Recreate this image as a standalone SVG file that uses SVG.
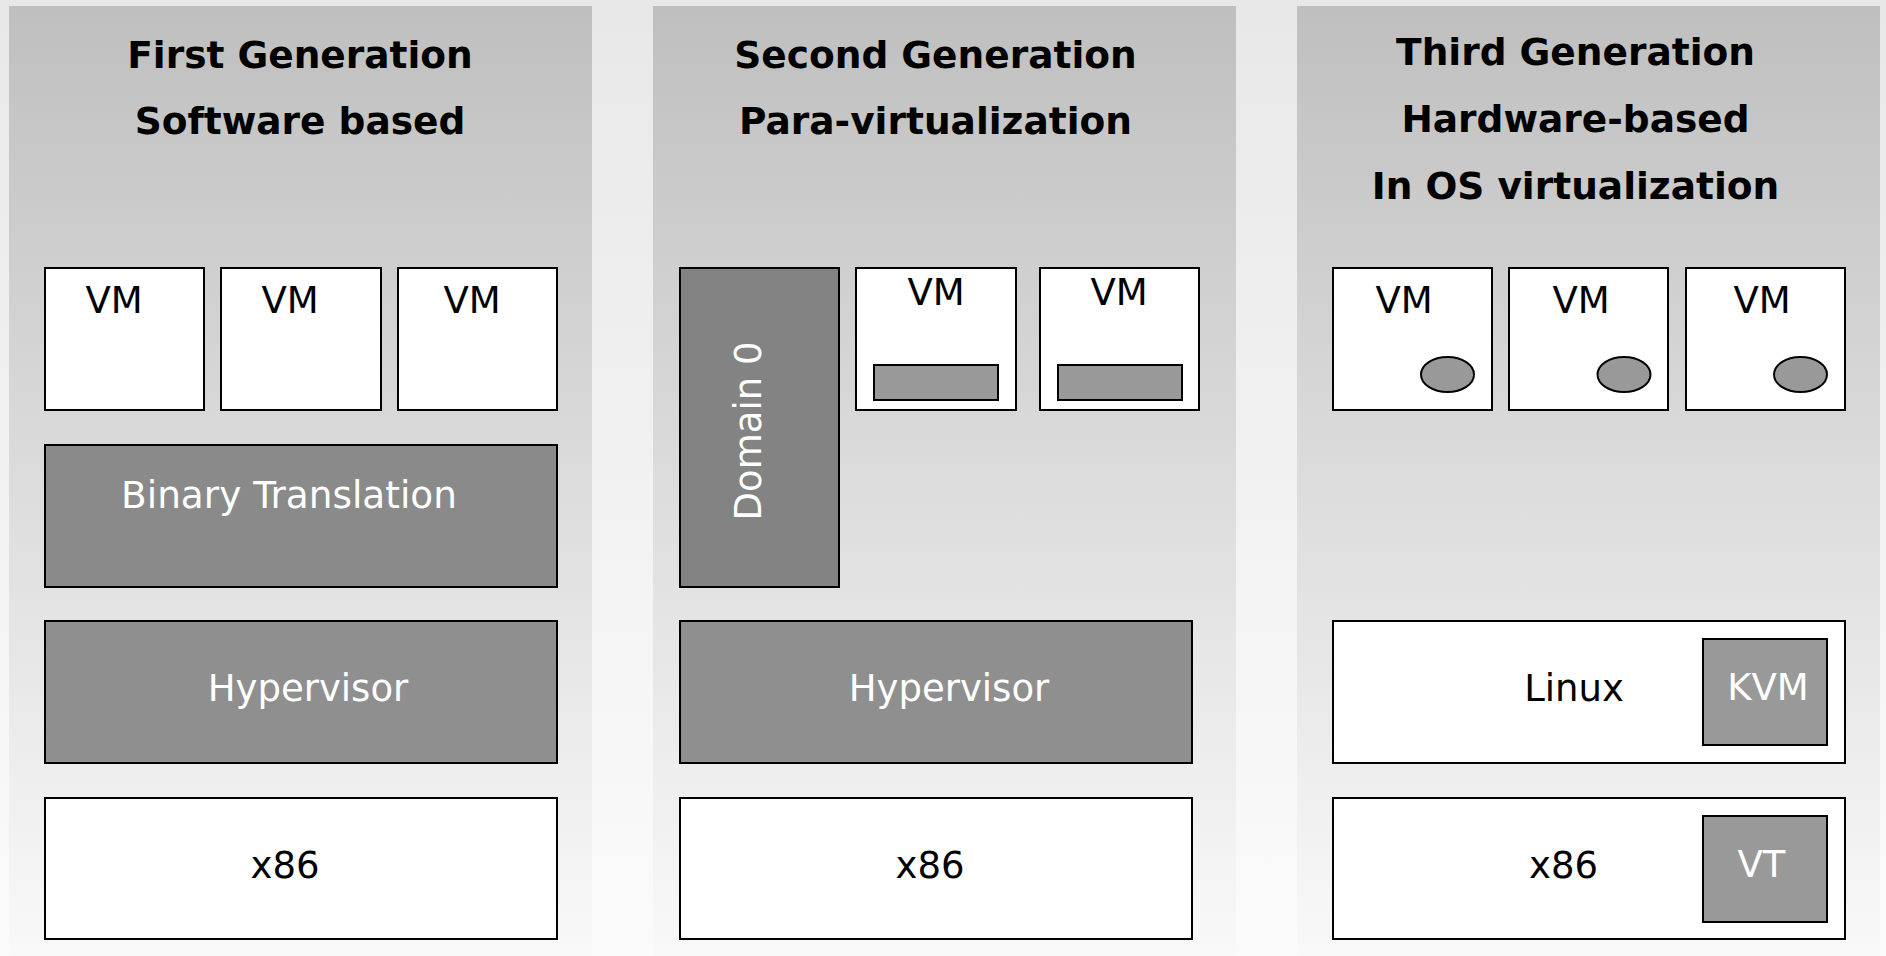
<svg xmlns="http://www.w3.org/2000/svg" width="1886" height="956" viewBox="0 0 1886 956">
  <defs>
    <linearGradient id="bg" x1="0" y1="0" x2="0" y2="1">
      <stop offset="0" stop-color="#e8e8e8"/>
      <stop offset="1" stop-color="#fbfbfb"/>
    </linearGradient>
    <linearGradient id="panel" x1="0" y1="0" x2="0" y2="1">
      <stop offset="0" stop-color="#bfbfbf"/>
      <stop offset="1" stop-color="#f9f9f9"/>
    </linearGradient>
    <style>
      .panel { fill: url(#panel); }
      .box { stroke: #000; stroke-width: 2; }
      .white { fill: #ffffff; }
      .dark { fill: #8a8a8a; }
      .hyp { fill: #8f8f8f; }
      .dom { fill: #838383; }
      .small { fill: #999999; stroke: #000; stroke-width: 2; }
      text { font-family: "DejaVu Sans", "Liberation Sans", sans-serif; font-size: 37px; }
      .title { font-weight: bold; fill: #000; text-anchor: middle; font-size: 37.5px; }
      .lbl { fill: #000; text-anchor: middle; }
      .lblw { fill: #ffffff; text-anchor: middle; }
      .bt { font-size: 37.4px; }
    </style>
  </defs>

  <rect x="0" y="0" width="1886" height="956" fill="url(#bg)"/>

  <!-- Panel 1 -->
  <g id="panel-first">
    <rect class="panel" x="9" y="6" width="583" height="950"/>
    <text class="title" x="300" y="68">First Generation</text>
    <text class="title" x="300" y="134">Software based</text>
  </g>
  <g id="p1-vm1"><rect class="box white" x="45" y="268" width="159" height="142"/><text class="lbl" x="114" y="313">VM</text></g>
  <g id="p1-vm2"><rect class="box white" x="221" y="268" width="160" height="142"/><text class="lbl" x="290" y="313">VM</text></g>
  <g id="p1-vm3"><rect class="box white" x="398" y="268" width="159" height="142"/><text class="lbl" x="472" y="313">VM</text></g>
  <g id="p1-bt"><rect class="box dark" x="45" y="445" width="512" height="142"/><text class="lblw bt" x="289" y="508">Binary Translation</text></g>
  <g id="p1-hyp"><rect class="box hyp" x="45" y="621" width="512" height="142"/><text class="lblw" x="308" y="701">Hypervisor</text></g>
  <g id="p1-x86"><rect class="box white" x="45" y="798" width="512" height="141"/><text class="lbl" x="285" y="878">x86</text></g>

  <!-- Panel 2 -->
  <g id="panel-second">
    <rect class="panel" x="653" y="6" width="583" height="950"/>
    <text class="title" x="935.5" y="68">Second Generation</text>
    <text class="title" x="935.5" y="134">Para-virtualization</text>
  </g>
  <g id="p2-dom0"><rect class="box dom" x="680" y="268" width="159" height="319"/><text class="lblw" transform="translate(761 431) rotate(-90)" x="0" y="0">Domain 0</text></g>
  <g id="p2-vm1"><rect class="box white" x="856" y="268" width="160" height="142"/><rect class="small" x="874" y="365" width="124" height="35"/><text class="lbl" x="936" y="305">VM</text></g>
  <g id="p2-vm2"><rect class="box white" x="1040" y="268" width="159" height="142"/><rect class="small" x="1058" y="365" width="124" height="35"/><text class="lbl" x="1119" y="305">VM</text></g>
  <g id="p2-hyp"><rect class="box hyp" x="680" y="621" width="512" height="142"/><text class="lblw" x="949" y="701">Hypervisor</text></g>
  <g id="p2-x86"><rect class="box white" x="680" y="798" width="512" height="141"/><text class="lbl" x="930" y="878">x86</text></g>

  <!-- Panel 3 -->
  <g id="panel-third">
    <rect class="panel" x="1297" y="6" width="583" height="950"/>
    <text class="title" x="1575.5" y="65">Third Generation</text>
    <text class="title" x="1575.5" y="132">Hardware-based</text>
    <text class="title" x="1575.5" y="199">In OS virtualization</text>
  </g>
  <g id="p3-vm1"><rect class="box white" x="1333" y="268" width="159" height="142"/><ellipse class="small" cx="1447.5" cy="374.5" rx="26.5" ry="17.5"/><text class="lbl" x="1404" y="313">VM</text></g>
  <g id="p3-vm2"><rect class="box white" x="1509" y="268" width="159" height="142"/><ellipse class="small" cx="1624" cy="374.5" rx="26.5" ry="17.5"/><text class="lbl" x="1581" y="313">VM</text></g>
  <g id="p3-vm3"><rect class="box white" x="1686" y="268" width="159" height="142"/><ellipse class="small" cx="1800.5" cy="374.5" rx="26.5" ry="17.5"/><text class="lbl" x="1762" y="313">VM</text></g>
  <g id="p3-linux"><rect class="box white" x="1333" y="621" width="512" height="142"/><text class="lbl" x="1574" y="701">Linux</text></g>
  <g id="p3-kvm"><rect class="small" x="1703" y="639" width="124" height="106"/><text class="lblw" x="1768" y="700">KVM</text></g>
  <g id="p3-x86"><rect class="box white" x="1333" y="798" width="512" height="141"/><text class="lbl" x="1563.5" y="878">x86</text></g>
  <g id="p3-vt"><rect class="small" x="1703" y="816" width="124" height="106"/><text class="lblw" x="1761.5" y="877">VT</text></g>
</svg>
